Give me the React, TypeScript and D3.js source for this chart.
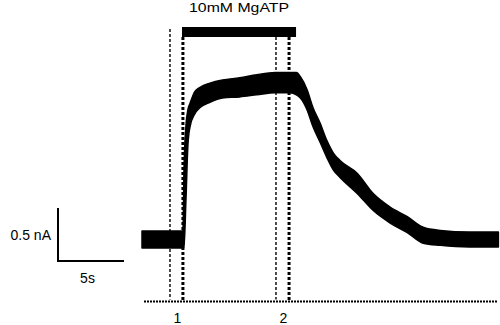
import React from 'react';
import * as d3 from 'd3';

// trace envelope: time (s), lower / upper edge of the noisy band (nA)
const times = [0, 3.1, 3.18, 3.33, 3.48, 3.64, 4.0, 4.4, 5.15, 6.1, 7.4, 8.7, 10.1, 11.2, 11.7, 12.0, 12.5, 12.95, 13.5, 14.0, 14.5, 15.0, 16.3, 17.5, 18.8, 20.1, 21.3, 22.6, 24.8, 27.0];
const lower = [-0.075, -0.075, -0.075, 0.38, 0.9, 1.07, 1.19, 1.25, 1.3, 1.34, 1.35, 1.37, 1.39, 1.39, 1.37, 1.34, 1.23, 1.07, 0.92, 0.78, 0.66, 0.59, 0.44, 0.28, 0.16, 0.07, -0.03, -0.05, -0.065, -0.065];
const upper = [0.085, 0.085, 0.66, 1.08, 1.23, 1.29, 1.4, 1.44, 1.48, 1.51, 1.53, 1.56, 1.58, 1.58, 1.58, 1.54, 1.42, 1.25, 1.1, 0.94, 0.82, 0.75, 0.63, 0.44, 0.31, 0.22, 0.12, 0.09, 0.075, 0.075];

// measurement markers (s)
const markers = [
  { label: '1', thin: 2.12, thick: 3.1 },
  { label: '2', thin: 10.15, thick: 11.14 },
];
const application = { label: '10mM MgATP', start: 3.03, end: 11.67 };
const scaleBarTime = 5; // s
const scaleBarCurrent = 0.5; // nA

export default function App() {
  const width = 500;
  const height = 325;

  const x = d3.scaleLinear().domain([0, 27]).range([142, 498.4]);
  const y = d3.scaleLinear().domain([0, 1]).range([240, 134]);

  const rows = times.map((t, i) => ({ t, lo: lower[i], hi: upper[i] }));
  const band = d3.area<{ t: number; lo: number; hi: number }>()
    .x(d => x(d.t))
    .y0(d => y(d.lo))
    .y1(d => y(d.hi))
    .curve(d3.curveMonotoneX)(rows) || '';

  const axisY = 301.5;
  const font = '"Liberation Sans", Arial, sans-serif';

  // scale bar geometry from the data scales
  const sbX = 58;
  const sbBottom = 261;
  const sbW = x(scaleBarTime) - x(0);
  const sbH = y(0) - y(scaleBarCurrent);

  return (
    <div style={{ position: 'fixed', left: 0, top: 0 }}>
      <svg width={width} height={height} style={{ display: 'block', background: '#fff' }}>
        {/* dotted time line */}
        <line x1={144} x2={498} y1={axisY} y2={axisY} stroke="#000" strokeWidth={2} strokeDasharray="2,1" />

        {/* drug application bar */}
        <rect x={x(application.start)} y={27} width={x(application.end) - x(application.start)} height={10} fill="#000" />
        <text x={(x(application.start) + x(application.end)) / 2} y={11.5} textAnchor="middle"
          fontFamily={font} fontSize={13.5} textLength={100} lengthAdjust="spacingAndGlyphs">{application.label}</text>

        {/* marker lines */}
        {markers.map((m, i) => (
          <g key={m.label}>
            <line x1={x(m.thin)} x2={x(m.thin)} y1={i === 0 ? 29 : 37} y2={axisY - 2}
              stroke="#000" strokeWidth={1.4} strokeDasharray="3,2" />
            <line x1={x(m.thick)} x2={x(m.thick)} y1={37} y2={axisY}
              stroke="#000" strokeWidth={3} strokeDasharray="3,2" />
            <text x={(x(m.thin) + x(m.thick)) / 2 + 1} y={323} textAnchor="middle"
              fontFamily={font} fontSize={14}>{m.label}</text>
          </g>
        ))}

        {/* current trace */}
        <path d={band} fill="#000" stroke="#000" strokeWidth={1.5} strokeLinejoin="round" />

        {/* scale bars */}
        <path d={`M${sbX},${sbBottom - sbH}V${sbBottom}H${sbX + sbW}`} fill="none" stroke="#000" strokeWidth={2} />
        <text x={51} y={240} textAnchor="end" fontFamily={font} fontSize={14}>{`${scaleBarCurrent} nA`}</text>
        <text x={87.5} y={283} textAnchor="middle" fontFamily={font} fontSize={14}>{`${scaleBarTime}s`}</text>
      </svg>
    </div>
  );
}
